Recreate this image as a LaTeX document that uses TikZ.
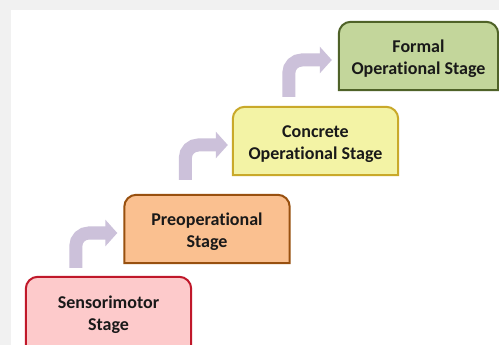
\documentclass[tikz,border=0pt]{standalone}
\usepackage{fontspec}
\setmainfont[Ligatures=NoCommon]{Carlito}
\usetikzlibrary{calc,arrows.meta,backgrounds}

\definecolor{pageGray}{HTML}{F1F1F1}
\definecolor{flowLav}{HTML}{CCC1DA}
\definecolor{sensFill}{HTML}{FDCACB}
\definecolor{sensLine}{HTML}{C0182A}
\definecolor{preFill}{HTML}{FAC090}
\definecolor{preLine}{HTML}{98500F}
\definecolor{conFill}{HTML}{F3F3A5}
\definecolor{conLine}{HTML}{C9A92A}
\definecolor{forFill}{HTML}{C3D69B}
\definecolor{forLine}{HTML}{4F6228}

\tikzset{
  stage/.style={minimum width=165pt, minimum height=68pt, inner sep=0pt,
    align=center, font=\fontsize{18}{22}\selectfont\bfseries, text=black!90},
  flow/.style={draw=flowLav, line width=13pt, rounded corners=13pt,
    -{Triangle[width=26pt,length=12pt]}},
}

% outline of a box with rounded top corners and square bottom corners,
% raised a little so the label sits slightly below its middle
\newcommand{\stagebox}[3]{%
  \draw[line width=2pt, draw=#3, fill=#2]
    ([yshift=3pt]#1.south west) [rounded corners=12pt] -- ([yshift=3pt]#1.north west)
    -- ([yshift=3pt]#1.north east) [sharp corners] -- ([yshift=3pt]#1.south east) -- cycle;}

\begin{document}
\begin{tikzpicture}[x=1pt,y=-1pt]
  \useasboundingbox (0,0) rectangle (499,345);
  \clip (0,0) rectangle (499,345);

  % stage nodes
  \node[stage, minimum height=70pt] (s1) at (108.5,315) {Sensorimotor\\Stage};
  \node[stage] (s2) at (207,232) {Preoperational\\Stage};
  \node[stage] (s3) at (315.5,144) {Concrete\\Operational Stage};
  \node[stage, minimum width=159pt] (s4) at (418.5,59) {Formal\\Operational Stage};

  \begin{scope}[on background layer]
    % page background
    \fill[pageGray] (0,0) rectangle (499,345);
    \fill[white] (11,10) rectangle (499,345);
    % stage outlines
    \stagebox{s1}{sensFill}{sensLine}
    \stagebox{s2}{preFill}{preLine}
    \stagebox{s3}{conFill}{conLine}
    \stagebox{s4}{forFill}{forLine}
  \end{scope}

  % bent arrows climbing from one stage to the next
  \draw[flow] ($(s1.north west)+(50,-12)$) |- ($(s2.west)+(-7,1)$);
  \draw[flow] ($(s2.north west)+(61,-18)$) |- ($(s3.west)+(-5,1)$);
  \draw[flow] ($(s3.north west)+(56,-13)$) |- ($(s4.west)+(-7,1)$);
\end{tikzpicture}
\end{document}
